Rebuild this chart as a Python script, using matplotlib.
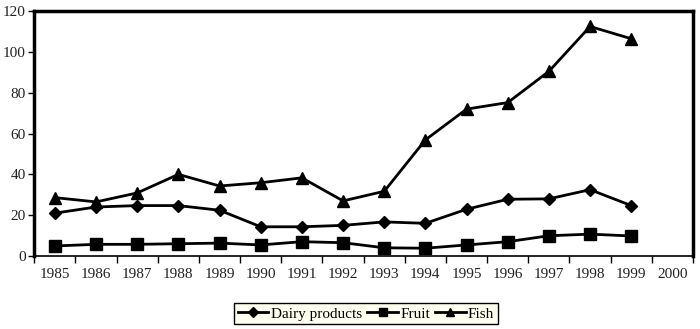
import matplotlib
matplotlib.use("Agg")
import matplotlib.pyplot as plt
import numpy as np

years = [str(y) for y in range(1985, 2001)]
dairy = [21.0, 24.0, 24.7, 24.7, 22.4, 14.3, 14.3, 15.0, 16.7, 16.0, 22.9, 27.8, 28.0, 32.5, 24.7]
fruit = [4.9, 5.7, 5.7, 6.0, 6.3, 5.4, 7.0, 6.5, 4.0, 3.8, 5.4, 7.0, 9.9, 10.7, 9.8]
fish = [28.6, 26.5, 30.9, 40.0, 34.3, 35.9, 38.3, 27.0, 31.7, 56.9, 72.0, 75.2, 90.5, 112.5, 106.5]

plt.rcParams['font.family'] = ['Liberation Serif', 'DejaVu Serif']

fig = plt.figure(figsize=(7, 3.29), dpi=100)
ax = fig.add_axes([0.049, 0.222, 0.941, 0.744])

x = np.arange(len(dairy))
ax.plot(x, dairy, color='black', lw=2, marker='D', ms=6, label='Dairy products')
ax.plot(x, fruit, color='black', lw=2, marker='s', ms=8, label='Fruit')
ax.plot(x, fish, color='black', lw=2, marker='^', ms=8, label='Fish')

ax.set_xlim(-0.5, len(years) - 0.5)
ax.set_ylim(0, 120)
ax.set_yticks(range(0, 121, 20))
ax.set_xticks(np.arange(len(years)))
ax.set_xticklabels(years)
ax.set_xticks(np.arange(-0.5, len(years), 1), minor=True)
ax.tick_params(axis='x', which='major', length=0, pad=9, labelsize=11, labelcolor='#222222')
ax.tick_params(axis='x', which='minor', length=5, width=1, direction='out')
ax.tick_params(axis='y', length=4, width=1, direction='out', pad=2, labelsize=11, labelcolor='#222222')

for s in ['top', 'right', 'left']:
    ax.spines[s].set_linewidth(2.5)
ax.spines['bottom'].set_linewidth(1.2)

leg = fig.legend(loc='lower center', bbox_to_anchor=(0.523, 0.0), ncol=3,
                 frameon=True, fancybox=False, edgecolor='black', facecolor='#fffff0',
                 fontsize=11, handlelength=2.0, handletextpad=0.15, columnspacing=0.35,
                 borderpad=0.25, borderaxespad=0.3, markerscale=0.8, framealpha=1)
leg.get_frame().set_linewidth(1)

fig.savefig('out.png', dpi=100)
